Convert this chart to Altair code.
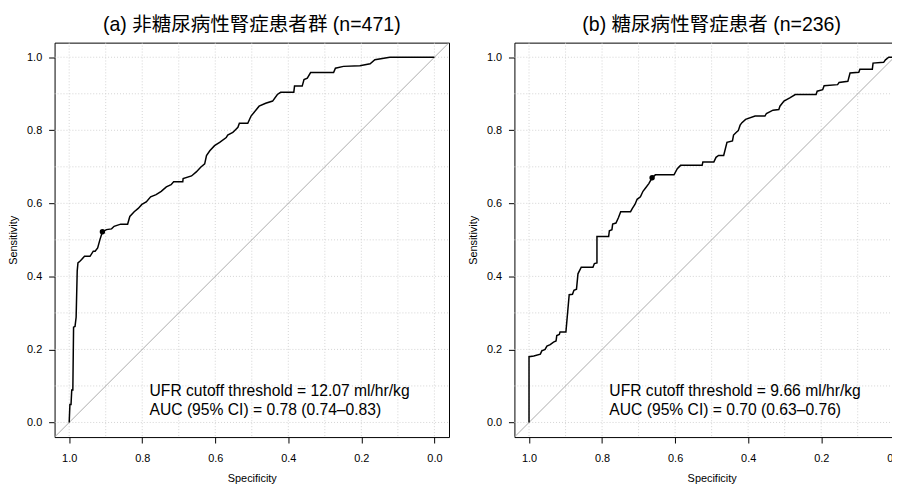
import altair as alt
import pandas as pd

# ---------------- data ----------------
a_spec = [1.000, 0.998, 0.995, 0.993, 0.990, 0.988, 0.984, 0.981, 0.978, 0.976,
          0.970, 0.966, 0.958, 0.943, 0.934, 0.929, 0.922, 0.916, 0.909, 0.898,
          0.884, 0.877, 0.859, 0.840, 0.834, 0.822, 0.811, 0.801, 0.789, 0.777,
          0.762, 0.748, 0.734, 0.721, 0.714, 0.689, 0.688, 0.665, 0.652, 0.640,
          0.629, 0.624, 0.615, 0.602, 0.588, 0.570, 0.566, 0.552, 0.538, 0.534,
          0.511, 0.502, 0.489, 0.480, 0.462, 0.443, 0.430, 0.421, 0.385, 0.383,
          0.362, 0.357, 0.348, 0.339, 0.276, 0.271, 0.249, 0.204, 0.176, 0.163,
          0.122, 0.000]
a_sens = [0.000, 0.049, 0.049, 0.089, 0.089, 0.261, 0.263, 0.288, 0.415, 0.437,
          0.442, 0.446, 0.455, 0.455, 0.469, 0.469, 0.478, 0.500, 0.522, 0.528,
          0.530, 0.537, 0.543, 0.543, 0.564, 0.577, 0.586, 0.597, 0.604, 0.618,
          0.624, 0.633, 0.645, 0.651, 0.659, 0.659, 0.668, 0.675, 0.686, 0.699,
          0.708, 0.731, 0.744, 0.758, 0.767, 0.780, 0.787, 0.794, 0.808, 0.819,
          0.819, 0.839, 0.855, 0.866, 0.874, 0.880, 0.898, 0.904, 0.904, 0.921,
          0.921, 0.939, 0.943, 0.958, 0.958, 0.970, 0.975, 0.977, 0.982, 0.993,
          1.000, 1.000]

b_spec = [1.000, 1.000, 0.987, 0.969, 0.965, 0.956, 0.951, 0.942, 0.933, 0.926,
          0.924, 0.917, 0.915, 0.899, 0.890, 0.881, 0.877, 0.870, 0.866, 0.857,
          0.825, 0.821, 0.814, 0.814, 0.782, 0.780, 0.773, 0.771, 0.762, 0.755,
          0.749, 0.722, 0.717, 0.710, 0.704, 0.695, 0.688, 0.681, 0.672, 0.663,
          0.654, 0.603, 0.594, 0.585, 0.526, 0.524, 0.494, 0.488, 0.481, 0.467,
          0.458, 0.443, 0.440, 0.433, 0.427, 0.422, 0.417, 0.407, 0.381, 0.354,
          0.350, 0.332, 0.316, 0.313, 0.302, 0.286, 0.271, 0.214, 0.211, 0.196,
          0.192, 0.155, 0.151, 0.127, 0.121, 0.097, 0.094, 0.060, 0.058, 0.029,
          0.024, 0.015, 0.000]
b_sens = [0.000, 0.180, 0.182, 0.187, 0.196, 0.200, 0.209, 0.213, 0.220, 0.223,
          0.238, 0.241, 0.248, 0.248, 0.350, 0.351, 0.362, 0.365, 0.407, 0.425,
          0.425, 0.435, 0.437, 0.509, 0.509, 0.525, 0.528, 0.543, 0.546, 0.561,
          0.577, 0.577, 0.586, 0.597, 0.611, 0.618, 0.633, 0.642, 0.654, 0.670,
          0.678, 0.678, 0.695, 0.704, 0.704, 0.713, 0.713, 0.726, 0.731, 0.731,
          0.767, 0.771, 0.787, 0.794, 0.799, 0.814, 0.821, 0.830, 0.839, 0.839,
          0.846, 0.855, 0.857, 0.866, 0.880, 0.889, 0.898, 0.898, 0.907, 0.911,
          0.922, 0.925, 0.931, 0.934, 0.957, 0.959, 0.967, 0.967, 0.984, 0.986,
          0.993, 1.000, 1.000]

a_cut = [0.909, 0.522]
b_cut = [0.663, 0.670]

titles = ["(a) 非糖尿病性腎症患者群 (n=471)", "(b) 糖尿病性腎症患者 (n=236)"]
notes_a = ["UFR cutoff threshold = 12.07 ml/hr/kg", "AUC (95% CI) = 0.78 (0.74–0.83)"]
notes_b = ["UFR cutoff threshold = 9.66 ml/hr/kg", "AUC (95% CI) = 0.70 (0.63–0.76)"]
note_x = [0.78, 0.78]
note_y = [0.072, 0.020]

grid_values = [0.0, 0.1, 0.2, 0.3, 0.4, 0.5, 0.6, 0.7, 0.8, 0.9, 1.0]
tick_values = [0.0, 0.2, 0.4, 0.6, 0.8, 1.0]
lim = [-0.04, 1.04]

# ---------------- styling ----------------
FONT = "Liberation Sans, Noto Sans CJK JP"
W, H = 398, 398


def xenc(field):
    return alt.X(field, type="quantitative",
                 scale=alt.Scale(domain=lim, reverse=True, nice=False, zero=False),
                 axis=alt.Axis(values=tick_values, format=".1f", title="Specificity",
                               labelPadding=10, titlePadding=9))


def yenc(field):
    return alt.Y(field, type="quantitative",
                 scale=alt.Scale(domain=lim, nice=False, zero=False),
                 axis=alt.Axis(values=tick_values, format=".1f", title="Sensitivity",
                               labelPadding=7, titlePadding=8, labelAngle=0))


def panel(spec, sens, cut, title, notes):
    gdf = pd.DataFrame({"g": grid_values})
    vgrid = alt.Chart(gdf).mark_rule(color="#D3D3D3", strokeDash=[1, 2], strokeWidth=1).encode(
        x=xenc("g"), y=alt.value(0), y2=alt.value(H))
    hgrid = alt.Chart(gdf).mark_rule(color="#D3D3D3", strokeDash=[1, 2], strokeWidth=1).encode(
        y=yenc("g"), x=alt.value(0), x2=alt.value(W))
    ddf = pd.DataFrame({"dx": [lim[1], lim[0]], "dy": [lim[0], lim[1]]})
    diag = alt.Chart(ddf).mark_line(color="#AAAAAA", strokeWidth=1).encode(
        x=xenc("dx"), y=yenc("dy"))
    rdf = pd.DataFrame({"spec": spec, "sens": sens, "i": list(range(len(spec)))})
    roc = alt.Chart(rdf).mark_line(color="black", strokeWidth=1.5).encode(
        x=xenc("spec"), y=yenc("sens"), order="i:Q")
    cdf = pd.DataFrame({"spec": [cut[0]], "sens": [cut[1]]})
    pt = alt.Chart(cdf).mark_circle(color="black", size=30, opacity=1).encode(
        x=xenc("spec"), y=yenc("sens"))
    tdf = pd.DataFrame({"tx": note_x, "ty": note_y, "t": notes})
    txt = alt.Chart(tdf).mark_text(align="left", baseline="alphabetic", fontSize=15.8,
                                   font=FONT, color="black").encode(
        x=xenc("tx"), y=yenc("ty"), text="t:N")
    return alt.layer(vgrid, hgrid, diag, roc, pt, txt).properties(
        width=W, height=H,
        title=alt.TitleParams(text=title, fontSize=19.7, font=FONT, fontWeight="normal",
                              offset=6, dy=16, baseline="alphabetic", anchor="middle",
                              color="black", frame="group"))


PAD_L, PAD_T = 47, 31
chart = alt.hconcat(
    panel(a_spec, a_sens, a_cut, titles[0], notes_a),
    panel(b_spec, b_sens, b_cut, titles[1], notes_b),
    spacing=15,
).properties(
    autosize=alt.AutoSizeParams(type="none"),
    padding={"left": PAD_L, "top": PAD_T, "right": 892 - PAD_L, "bottom": 476 - PAD_T},
).configure_view(
    stroke="black", strokeWidth=1
).configure_axis(
    domain=False, grid=False,
    labelFont=FONT, labelFontSize=11, labelColor="black",
    titleFont=FONT, titleFontSize=11, titleFontWeight="normal", titleColor="black",
    tickColor="black", tickSize=6, tickWidth=1,
)

chart.save("out.html", embed_options={"renderer": "svg", "actions": False})
